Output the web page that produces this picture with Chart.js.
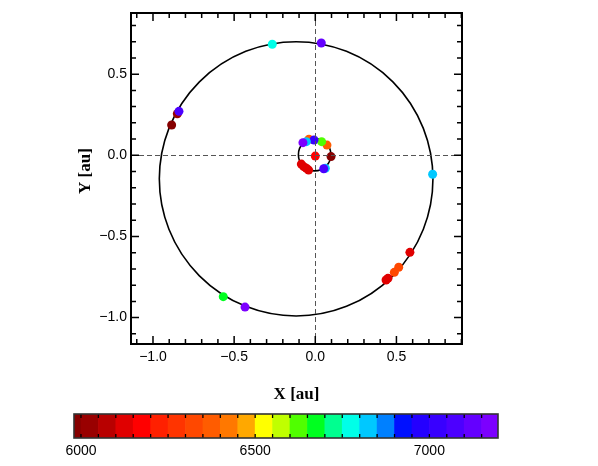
<!DOCTYPE html>
<html><head><meta charset="utf-8">
<script src="https://cdn.jsdelivr.net/npm/chart.js@4.4.1/dist/chart.umd.min.js"></script>
<style>
html,body{margin:0;padding:0;background:#fff;}
#wrap{position:relative;width:598px;height:466px;background:#fff;}
#c1{position:absolute;left:0;top:0;}
#c2{position:absolute;left:0;top:405px;}
</style></head><body>
<div id="wrap"><canvas id="c1" width="598" height="405"></canvas><canvas id="c2" width="598" height="61"></canvas></div>
<script>
// ---------- data ----------
const POINT_X = [-0.265, 0.037, -0.850, -0.840, -0.885, 0.723, 0.583, 0.514, 0.487, 0.448, 0.436, -0.567, -0.433,
                 0.000, 0.097, 0.072, 0.039, -0.039, -0.008, -0.055, -0.076, -0.086, -0.071, -0.055, -0.041, 0.062, 0.052];
const POINT_Y = [0.684, 0.692, 0.256, 0.271, 0.187, -0.117, -0.598, -0.690, -0.721, -0.758, -0.768, -0.871, -0.935,
                 -0.005, -0.008, 0.063, 0.084, 0.099, 0.094, 0.084, 0.078, -0.054, -0.070, -0.080, -0.091, -0.080, -0.083];
const POINT_VALUE = [6770, 7130, 6020, 7060, 5990, 6820, 6120, 6320, 6330, 6130, 6120, 6670, 7170,
                     6170, 5990, 6370, 6630, 6370, 7010, 6820, 7170, 6120, 6130, 6110, 6130, 6820, 7080];

const ORBIT_CENTER_X = [-0.118, -0.004];
const ORBIT_CENTER_Y = [-0.145, 0.004];
const ORBIT_RADIUS_X = [0.843, 0.100];
const ORBIT_RADIUS_Y = [0.845, 0.100];

const X_RANGE = [-1.1355, 0.904];
const Y_RANGE = [-1.1626, 0.8768];
const X_TICKS = [-1.0, -0.5, 0.0, 0.5];
const Y_TICKS = [-1.0, -0.5, 0.0, 0.5];

const CBAR_RANGE = [5980, 7197];
const CBAR_TICKS = [6000, 6500, 7000];
const CBAR_EDGES = [5950, 6000, 6050, 6100, 6150, 6200, 6250, 6300, 6350, 6400, 6450, 6500, 6550,
                    6600, 6650, 6700, 6750, 6800, 6850, 6900, 6950, 7000, 7050, 7100, 7150, 7200];
const CBAR_COLORS = ['#860000', '#990000', '#b80000', '#e00000', '#ff0000', '#ff2000', '#ff3400', '#ff4800',
                     '#ff5c00', '#ff7800', '#ffa800', '#ffff00', '#c0ff00', '#50ff00', '#00ff20', '#00ff90',
                     '#00ffe8', '#00c8ff', '#0080ff', '#0010ff', '#2400ff', '#3800ff', '#4c00ff', '#6400ff', '#7c00ff'];

// ---------- helpers ----------
const SANS = '"Liberation Sans", Arial, Helvetica, sans-serif';
const SERIF = '"Liberation Serif", "Times New Roman", serif';
function cmap(v) {
  for (let i = 0; i < CBAR_COLORS.length; i++) if (v < CBAR_EDGES[i + 1]) return CBAR_COLORS[i];
  return CBAR_COLORS[CBAR_COLORS.length - 1];
}
function fmt(v) { return (v < 0 ? '\u2212' : '') + Math.abs(v).toFixed(1); }

const framePlugin = {
  id: 'frame',
  beforeDatasetsDraw(chart) {
    const {ctx, scales: {x, y}} = chart;
    ctx.save();
    ctx.strokeStyle = '#000';
    ctx.lineWidth = 1.6;
    for (let i = 0; i < ORBIT_CENTER_X.length; i++) {
      const cx = x.getPixelForValue(ORBIT_CENTER_X[i]);
      const cy = y.getPixelForValue(ORBIT_CENTER_Y[i]);
      const rx = Math.abs(x.getPixelForValue(ORBIT_CENTER_X[i] + ORBIT_RADIUS_X[i]) - cx);
      const ry = Math.abs(y.getPixelForValue(ORBIT_CENTER_Y[i] + ORBIT_RADIUS_Y[i]) - cy);
      ctx.beginPath();
      ctx.ellipse(cx, cy, rx, ry, 0, 0, Math.PI * 2);
      ctx.stroke();
    }
    ctx.restore();
  },
  afterDatasetsDraw(chart) {
    const {ctx, chartArea: a, scales: {x, y}} = chart;
    ctx.save();
    // zero lines
    ctx.strokeStyle = '#555';
    ctx.lineWidth = 1;
    ctx.setLineDash([5, 3]);
    const x0 = Math.round(x.getPixelForValue(0)) + 0.5;
    const y0 = Math.round(y.getPixelForValue(0)) + 0.5;
    ctx.beginPath();
    ctx.moveTo(x0, a.top); ctx.lineTo(x0, a.bottom);
    ctx.moveTo(a.left, y0); ctx.lineTo(a.right, y0);
    ctx.stroke();
    ctx.setLineDash([]);
    // ticks on all sides (inward)
    ctx.strokeStyle = '#000';
    ctx.lineWidth = 1.5;
    ctx.beginPath();
    for (let k = Math.ceil(x.min * 10); k <= Math.floor(x.max * 10); k++) {
      const p = x.getPixelForValue(k / 10);
      const len = (k % 5 === 0) ? 8 : 5;
      ctx.moveTo(p, a.bottom); ctx.lineTo(p, a.bottom - len);
      ctx.moveTo(p, a.top); ctx.lineTo(p, a.top + len);
    }
    for (let k = Math.ceil(y.min * 10); k <= Math.floor(y.max * 10); k++) {
      const p = y.getPixelForValue(k / 10);
      const len = (k % 5 === 0) ? 8 : 5;
      ctx.moveTo(a.left, p); ctx.lineTo(a.left + len, p);
      ctx.moveTo(a.right, p); ctx.lineTo(a.right - len, p);
    }
    ctx.stroke();
    // frame
    ctx.lineWidth = 2;
    ctx.strokeRect(a.left, a.top, a.right - a.left, a.bottom - a.top);
    ctx.restore();
  },
  afterDraw(chart) {
    const {ctx} = chart;
    ctx.save();
    ctx.fillStyle = '#000';
    ctx.font = 'bold 17px ' + SERIF;
    ctx.textAlign = 'center';
    ctx.textBaseline = 'middle';
    ctx.translate(86, 171);
    ctx.rotate(-Math.PI / 2);
    ctx.fillText('Y [au]', 0, 0);
    ctx.restore();
  }
};

new Chart(document.getElementById('c1'), {
  type: 'scatter',
  data: {
    datasets: [{
      data: POINT_X.map((v, i) => ({x: v, y: POINT_Y[i]})),
      backgroundColor: POINT_VALUE.map(cmap),
      borderWidth: 0,
      pointRadius: 4.5,
      pointHoverRadius: 4.5
    }]
  },
  options: {
    responsive: false, animation: false, devicePixelRatio: 1, events: [],
    layout: {padding: {left: 0, right: 136, top: 13, bottom: 0}},
    plugins: {legend: {display: false}, tooltip: {enabled: false}},
    scales: {
      x: {
        type: 'linear', min: X_RANGE[0], max: X_RANGE[1],
        afterFit(s) { s.height = 61; },
        afterBuildTicks(s) { s.ticks = X_TICKS.map(v => ({value: v})); },
        grid: {display: false, drawTicks: false}, border: {display: false},
        ticks: {font: {family: SANS, size: 14}, color: '#000', padding: 5, maxRotation: 0, autoSkip: false, callback: fmt},
        title: {display: true, text: 'X [au]', color: '#000', font: {family: SERIF, size: 17, weight: 'bold'}, padding: {top: 0, bottom: 0}}
      },
      y: {
        type: 'linear', min: Y_RANGE[0], max: Y_RANGE[1],
        afterFit(s) { s.width = 131; },
        afterBuildTicks(s) { s.ticks = Y_TICKS.map(v => ({value: v})); },
        grid: {display: false, drawTicks: false}, border: {display: false},
        ticks: {font: {family: SANS, size: 14}, color: '#000', padding: 4, autoSkip: false, callback: fmt}
      }
    }
  },
  plugins: [framePlugin]
});

const cbarPlugin = {
  id: 'cbarFrame',
  afterDatasetsDraw(chart) {
    const {ctx, chartArea: a, scales: {x}} = chart;
    ctx.save();
    ctx.strokeStyle = '#000';
    ctx.lineWidth = 1.3;
    ctx.beginPath();
    for (let v = 6000; v <= CBAR_RANGE[1]; v += 50) {
      const p = x.getPixelForValue(v);
      ctx.moveTo(p, a.top); ctx.lineTo(p, a.top + 4);
      ctx.moveTo(p, a.bottom); ctx.lineTo(p, a.bottom - 4);
    }
    ctx.stroke();
    ctx.strokeStyle = '#333';
    ctx.lineWidth = 1.6;
    ctx.strokeRect(a.left, a.top, a.right - a.left, a.bottom - a.top);
    ctx.restore();
  }
};

new Chart(document.getElementById('c2'), {
  type: 'bar',
  data: {
    labels: ['c'],
    datasets: [{
      data: CBAR_COLORS.map((c, i) => ({x: [CBAR_EDGES[i], CBAR_EDGES[i + 1]], y: 'c'})),
      backgroundColor: CBAR_COLORS,
      borderWidth: 0,
      barPercentage: 1, categoryPercentage: 1, grouped: false
    }]
  },
  options: {
    indexAxis: 'y', responsive: false, animation: false, devicePixelRatio: 1, events: [],
    layout: {padding: {left: 74, right: 100, top: 9, bottom: 0}},
    plugins: {legend: {display: false}, tooltip: {enabled: false}},
    scales: {
      x: {
        type: 'linear', min: CBAR_RANGE[0], max: CBAR_RANGE[1],
        afterFit(s) { s.height = 28; },
        afterBuildTicks(s) { s.ticks = CBAR_TICKS.map(v => ({value: v})); },
        grid: {display: false, drawTicks: false}, border: {display: false},
        ticks: {font: {family: SANS, size: 14}, color: '#000', padding: 5, maxRotation: 0, autoSkip: false,
                callback: v => String(v)}
      },
      y: {type: 'category', display: false}
    }
  },
  plugins: [cbarPlugin]
});
</script>
</body></html>
